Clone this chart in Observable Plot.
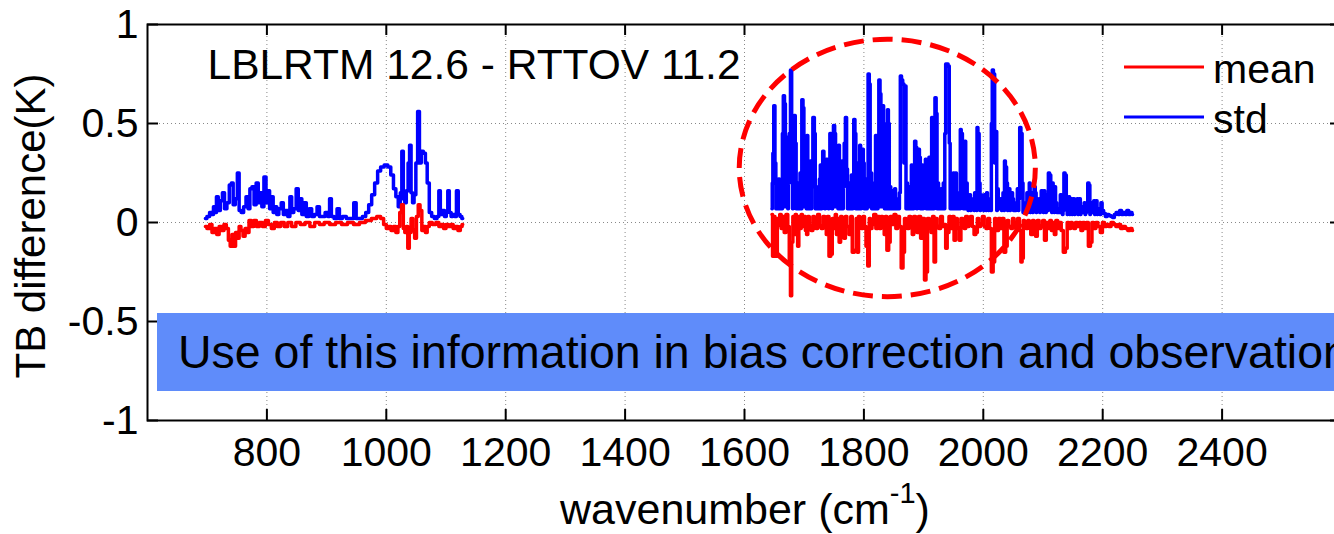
<!DOCTYPE html>
<html><head><meta charset="utf-8">
<script src="https://cdn.jsdelivr.net/npm/d3@7"></script>
<script src="https://cdn.jsdelivr.net/npm/@observablehq/plot@0.6"></script>
<style>
html,body{margin:0;padding:0;background:#fff;overflow:hidden;}
#wrap{position:relative;width:1334px;height:534px;overflow:hidden;font-family:"Liberation Sans",Arial,sans-serif;}
#wrap svg{display:block;}
#banner{position:absolute;left:157px;top:313px;width:1300px;height:78px;background:#5f8cfa;color:#000;font-size:46.5px;line-height:78px;padding-left:21px;white-space:nowrap;box-sizing:border-box;}
</style></head><body><div id="wrap"></div><script>
// ---- data ----
const xTicks = [800, 1000, 1200, 1400, 1600, 1800, 2000, 2200, 2400];
const yTicks = [-1, -0.5, 0, 0.5, 1];
const titleText = "LBLRTM 12.6 - RTTOV 11.2";
const seriesNames = ["mean", "std"];
const xLabel = "wavenumber (cm";
const xLabelSup = "-1";
const yLabel = "TB difference(K)";
const bannerText = "Use of this information in bias correction and observation error";
// highlight ellipse (data units): center wavenumber, center K, radius wavenumber, radius K
const ellipse = {cx: 1840, cy: 0.273, rx: 248, ry: 0.65};

const stdBand1 = [[697,0.02],[702,0.03],[706,0.05],[709,0.04],[712,0.08],[714,0.05],[717,0.13],[720,0.06],[724,0.11],[727,0.15],[731,0.07],[735,0.10],[739,0.19],[742,0.20],[745,0.09],[749,0.12],[752,0.25],[755,0.06],[759,0.05],[763,0.08],[767,0.13],[770,0.07],[773,0.17],[777,0.18],[780,0.09],[784,0.20],[787,0.10],[790,0.15],[793,0.08],[797,0.23],[800,0.10],[803,0.16],[806,0.07],[809,0.13],[812,0.05],[815,0.08],[818,0.04],[822,0.07],[826,0.10],[829,0.04],[833,0.06],[837,0.03],[840,0.13],[843,0.05],[847,0.07],[851,0.17],[854,0.06],[857,0.12],[860,0.04],[864,0.10],[868,0.03],[873,0.07],[877,0.03],[882,0.04],[886,0.08],[890,0.03],[895,0.03],[900,0.05],[904,0.03],[906,0.12],[910,0.03],[915,0.02],[920,0.07],[923,0.02],[930,0.03],[936,0.02],[943,0.02],[948,0.10],[951,0.02],[957,0.02],[963,0.03],[968,0.05],[973,0.09],[978,0.14],[983,0.20],[988,0.26],[993,0.28],[1000,0.29],[1005,0.28],[1010,0.24],[1014,0.17],[1018,0.13],[1022,0.08],[1025,0.15],[1027,0.36],[1030,0.12],[1032,0.10],[1035,0.16],[1038,0.30],[1040,0.39],[1043,0.15],[1045,0.10],[1048,0.14],[1051,0.30],[1054,0.56],[1057,0.30],[1060,0.36],[1064,0.35],[1067,0.30],[1070,0.20],[1074,0.05],[1078,0.03],[1083,0.02],[1087,0.03],[1089,0.16],[1092,0.04],[1096,0.06],[1099,0.03],[1102,0.05],[1104,0.16],[1107,0.05],[1110,0.03],[1113,0.04],[1116,0.03],[1119,0.16],[1122,0.04],[1125,0.03],[1128,0.02]];

const meanBand1 = [[697,-0.02],[702,-0.03],[706,-0.01],[710,-0.05],[714,-0.03],[718,-0.06],[722,-0.02],[726,-0.04],[730,-0.01],[734,-0.03],[737,-0.09],[740,-0.12],[743,-0.06],[746,-0.12],[749,-0.05],[752,-0.08],[755,-0.02],[758,-0.04],[762,-0.07],[765,-0.03],[768,-0.05],[772,0.01],[776,-0.02],[780,0.01],[785,-0.02],[790,0.0],[795,-0.02],[800,0.01],[805,-0.01],[810,-0.03],[815,0.0],[820,-0.02],[826,0.0],[832,-0.02],[838,0.0],[845,-0.02],[852,0.0],[860,-0.01],[868,0.0],[876,-0.02],[884,0.0],[892,-0.01],[900,0.0],[910,-0.01],[920,0.0],[930,-0.01],[940,0.0],[950,-0.01],[960,0.0],[970,0.01],[980,0.02],[988,0.03],[993,0.02],[998,-0.01],[1002,-0.03],[1006,-0.02],[1010,-0.04],[1014,-0.02],[1018,-0.05],[1021,-0.02],[1024,0.05],[1027,0.09],[1030,-0.03],[1032,-0.05],[1035,-0.02],[1037,-0.13],[1040,-0.05],[1043,0.02],[1046,-0.04],[1049,-0.08],[1052,0.03],[1055,0.09],[1058,0.06],[1061,-0.04],[1064,-0.02],[1067,-0.05],[1070,-0.02],[1074,0.0],[1080,-0.01],[1086,0.0],[1090,-0.02],[1094,-0.01],[1098,-0.03],[1102,-0.01],[1106,-0.02],[1110,-0.01],[1114,-0.03],[1118,-0.02],[1122,-0.04],[1126,-0.02],[1128,-0.01]];

const stdBand2 = [[1646,0.07],[1647,0.20],[1648,0.35],[1650,0.59],[1652,0.30],[1653,0.07],[1654,0.18],[1656,0.07],[1658,0.22],[1659,0.07],[1660,0.12],[1662,0.20],[1663,0.07],[1664,0.45],[1666,0.64],[1668,0.60],[1669,0.08],[1670,0.25],[1672,0.43],[1673,0.07],[1674,0.20],[1676,0.45],[1678,0.77],[1680,0.50],[1681,0.07],[1682,0.22],[1684,0.54],[1686,0.40],[1687,0.07],[1688,0.18],[1690,0.20],[1691,0.07],[1692,0.10],[1694,0.25],[1695,0.07],[1697,0.62],[1699,0.58],[1700,0.08],[1701,0.25],[1703,0.15],[1704,0.07],[1705,0.44],[1707,0.20],[1708,0.07],[1709,0.12],[1711,0.31],[1712,0.07],[1713,0.18],[1716,0.53],[1718,0.45],[1719,0.07],[1720,0.18],[1722,0.07],[1724,0.12],[1725,0.07],[1726,0.22],[1728,0.29],[1729,0.07],[1730,0.15],[1732,0.36],[1734,0.30],[1735,0.07],[1736,0.14],[1738,0.32],[1740,0.25],[1741,0.07],[1742,0.12],[1744,0.45],[1746,0.30],[1747,0.07],[1748,0.22],[1750,0.49],[1752,0.45],[1753,0.08],[1754,0.20],[1756,0.29],[1757,0.07],[1758,0.39],[1760,0.30],[1761,0.07],[1762,0.15],[1764,0.31],[1765,0.07],[1766,0.18],[1768,0.40],[1770,0.53],[1772,0.27],[1773,0.07],[1774,0.12],[1776,0.20],[1777,0.07],[1778,0.10],[1780,0.24],[1781,0.07],[1782,0.15],[1784,0.52],[1786,0.45],[1787,0.07],[1788,0.20],[1790,0.30],[1791,0.07],[1792,0.14],[1794,0.39],[1795,0.07],[1796,0.18],[1798,0.37],[1800,0.30],[1801,0.07],[1802,0.15],[1804,0.22],[1805,0.07],[1806,0.12],[1808,0.75],[1810,0.70],[1811,0.08],[1812,0.25],[1814,0.07],[1816,0.17],[1818,0.20],[1819,0.07],[1820,0.44],[1822,0.35],[1823,0.07],[1824,0.12],[1826,0.72],[1828,0.65],[1829,0.08],[1830,0.30],[1832,0.59],[1834,0.50],[1835,0.07],[1836,0.20],[1838,0.15],[1839,0.07],[1840,0.57],[1842,0.50],[1843,0.07],[1844,0.18],[1846,0.12],[1847,0.07],[1848,0.16],[1850,0.10],[1851,0.07],[1852,0.17],[1854,0.12],[1855,0.07],[1856,0.09],[1858,0.12],[1859,0.07],[1860,0.15],[1862,0.74],[1864,0.72],[1866,0.70],[1868,0.30],[1870,0.69],[1871,0.07],[1872,0.20],[1874,0.07],[1876,0.18],[1878,0.12],[1879,0.07],[1880,0.29],[1882,0.20],[1883,0.07],[1884,0.14],[1886,0.41],[1888,0.38],[1889,0.07],[1890,0.20],[1892,0.37],[1894,0.33],[1895,0.07],[1896,0.15],[1898,0.29],[1899,0.07],[1900,0.12],[1902,0.20],[1904,0.32],[1905,0.07],[1906,0.18],[1908,0.07],[1910,0.33],[1912,0.20],[1913,0.07],[1914,0.53],[1916,0.30],[1917,0.07],[1918,0.15],[1920,0.63],[1922,0.55],[1923,0.07],[1924,0.20],[1926,0.12],[1927,0.07],[1928,0.10],[1930,0.17],[1931,0.07],[1932,0.12],[1934,0.20],[1935,0.07],[1936,0.45],[1938,0.80],[1940,0.80],[1942,0.79],[1944,0.40],[1945,0.07],[1946,0.17],[1948,0.12],[1949,0.07],[1950,0.25],[1952,0.20],[1953,0.07],[1954,0.25],[1956,0.14],[1957,0.07],[1958,0.09],[1960,0.15],[1961,0.07],[1962,0.47],[1964,0.45],[1966,0.30],[1967,0.07],[1968,0.15],[1970,0.41],[1971,0.07],[1972,0.20],[1974,0.12],[1975,0.06],[1976,0.08],[1978,0.14],[1979,0.06],[1980,0.10],[1982,0.07],[1984,0.12],[1985,0.06],[1986,0.15],[1988,0.09],[1989,0.06],[1990,0.48],[1992,0.45],[1994,0.20],[1995,0.06],[1996,0.14],[1998,0.08],[2000,0.12],[2001,0.06],[2002,0.14],[2004,0.09],[2005,0.06],[2006,0.15],[2008,0.10],[2009,0.06],[2010,0.08],[2012,0.12],[2013,0.06],[2014,0.50],[2016,0.77],[2018,0.75],[2020,0.30],[2022,0.46],[2023,0.06],[2024,0.17],[2026,0.10],[2028,0.07],[2030,0.12],[2031,0.06],[2032,0.08],[2034,0.15],[2035,0.06],[2036,0.31],[2038,0.28],[2040,0.20],[2041,0.06],[2042,0.10],[2044,0.17],[2045,0.06],[2046,0.08],[2048,0.15],[2050,0.12],[2051,0.06],[2052,0.09],[2054,0.06],[2056,0.10],[2058,0.17],[2059,0.06],[2060,0.12],[2062,0.48],[2064,0.45],[2066,0.20],[2067,0.05],[2068,0.09],[2070,0.06],[2072,0.10],[2074,0.15],[2075,0.05],[2076,0.08],[2078,0.20],[2079,0.05],[2080,0.10],[2082,0.15],[2083,0.05],[2084,0.08],[2086,0.18],[2088,0.15],[2089,0.05],[2090,0.10],[2092,0.06],[2094,0.12],[2095,0.05],[2096,0.07],[2098,0.16],[2100,0.12],[2101,0.05],[2102,0.16],[2104,0.08],[2105,0.05],[2106,0.14],[2108,0.06],[2110,0.25],[2112,0.24],[2114,0.20],[2115,0.05],[2116,0.20],[2118,0.12],[2119,0.05],[2120,0.18],[2122,0.10],[2124,0.05],[2126,0.07],[2128,0.05],[2130,0.14],[2132,0.12],[2133,0.04],[2134,0.06],[2136,0.25],[2138,0.24],[2140,0.13],[2141,0.04],[2142,0.08],[2144,0.13],[2145,0.04],[2146,0.06],[2148,0.12],[2149,0.04],[2150,0.07],[2152,0.12],[2153,0.04],[2154,0.05],[2156,0.10],[2158,0.12],[2159,0.04],[2160,0.06],[2162,0.12],[2163,0.04],[2164,0.05],[2166,0.08],[2168,0.05],[2170,0.10],[2171,0.04],[2172,0.05],[2174,0.08],[2176,0.20],[2178,0.19],[2179,0.04],[2180,0.08],[2182,0.10],[2184,0.05],[2186,0.11],[2187,0.04],[2188,0.06],[2190,0.11],[2191,0.04],[2192,0.05],[2194,0.07],[2196,0.04],[2198,0.10],[2200,0.06],[2203,0.045],[2206,0.03],[2209,0.04],[2212,0.035],[2215,0.03],[2218,0.025],[2221,0.04],[2224,0.05],[2227,0.04],[2230,0.06],[2233,0.04],[2236,0.05],[2239,0.04],[2242,0.06],[2245,0.04],[2248,0.05],[2250,0.04]];

const meanBand2 = [[1646,0.04],[1648,-0.17],[1650,0.03],[1652,-0.10],[1654,-0.17],[1656,0.02],[1658,-0.015],[1660,0.04],[1663,-0.03],[1665,0.03],[1668,-0.05],[1671,0.04],[1674,-0.02],[1676,-0.20],[1678,-0.37],[1680,-0.10],[1682,0.03],[1684,-0.06],[1686,0.04],[1688,-0.05],[1690,-0.12],[1692,0.03],[1694,-0.03],[1696,0.04],[1698,-0.02],[1701,0.03],[1703,-0.04],[1705,-0.06],[1707,0.03],[1710,-0.02],[1713,-0.04],[1716,0.03],[1718,-0.02],[1721,-0.03],[1724,0.04],[1727,-0.02],[1730,-0.03],[1733,0.03],[1736,-0.02],[1738,-0.06],[1740,0.03],[1743,-0.17],[1746,-0.16],[1748,0.02],[1751,-0.03],[1753,0.04],[1755,-0.06],[1757,0.02],[1760,-0.10],[1762,0.03],[1765,-0.03],[1768,-0.08],[1770,0.03],[1773,-0.02],[1777,-0.06],[1779,0.03],[1782,-0.15],[1786,-0.14],[1788,0.02],[1790,-0.15],[1792,0.03],[1794,-0.02],[1797,-0.03],[1800,0.03],[1802,-0.02],[1805,-0.12],[1808,-0.22],[1810,0.02],[1812,-0.03],[1815,-0.01],[1818,0.04],[1822,-0.03],[1825,0.03],[1827,-0.03],[1830,0.03],[1833,-0.02],[1835,-0.06],[1837,0.03],[1840,-0.14],[1843,-0.10],[1845,0.03],[1849,-0.01],[1852,0.04],[1855,-0.03],[1858,0.03],[1861,-0.02],[1864,-0.23],[1867,-0.15],[1869,0.02],[1872,-0.02],[1874,-0.03],[1877,0.03],[1880,-0.02],[1882,-0.06],[1885,0.03],[1888,-0.02],[1890,-0.05],[1893,0.03],[1897,-0.08],[1900,0.02],[1903,-0.29],[1905,-0.25],[1908,0.02],[1911,-0.03],[1914,-0.05],[1916,0.03],[1919,-0.20],[1921,0.02],[1924,-0.02],[1927,-0.03],[1930,0.03],[1933,-0.02],[1936,-0.01],[1938,-0.13],[1941,-0.05],[1944,0.03],[1947,-0.03],[1950,0.03],[1952,-0.09],[1955,0.02],[1958,-0.03],[1961,-0.09],[1964,0.02],[1967,-0.02],[1969,-0.03],[1972,0.03],[1975,-0.02],[1977,-0.01],[1980,0.03],[1983,-0.02],[1986,-0.06],[1989,-0.05],[1991,0.02],[1994,-0.02],[1997,-0.01],[2000,0.03],[2003,-0.02],[2006,-0.03],[2009,0.02],[2012,-0.03],[2015,-0.25],[2018,-0.20],[2020,0.02],[2022,-0.03],[2024,-0.04],[2027,0.02],[2030,-0.03],[2033,0.02],[2036,-0.15],[2039,-0.12],[2041,0.01],[2044,-0.02],[2048,-0.03],[2050,0.02],[2053,0.0],[2056,-0.03],[2059,0.02],[2062,-0.04],[2064,-0.20],[2066,-0.18],[2068,0.01],[2070,-0.02],[2073,-0.03],[2076,0.01],[2078,-0.03],[2081,-0.06],[2084,0.01],[2086,-0.03],[2089,-0.07],[2092,0.01],[2095,-0.03],[2098,-0.02],[2101,0.01],[2104,-0.09],[2107,0.0],[2110,-0.03],[2113,0.01],[2115,-0.04],[2118,0.0],[2120,-0.06],[2123,0.01],[2126,-0.03],[2129,0.0],[2132,-0.04],[2136,-0.15],[2139,-0.13],[2142,0.0],[2145,-0.03],[2148,0.0],[2150,-0.02],[2153,-0.03],[2156,0.0],[2159,-0.02],[2162,0.0],[2165,-0.04],[2168,0.0],[2171,-0.03],[2174,0.0],[2178,-0.12],[2181,-0.10],[2183,0.0],[2187,-0.03],[2190,0.0],[2194,-0.02],[2198,-0.05],[2201,0.0],[2205,-0.02],[2208,-0.01],[2212,-0.02],[2216,0.0],[2220,-0.01],[2224,-0.02],[2228,-0.01],[2232,-0.03],[2236,-0.02],[2240,-0.03],[2244,-0.04],[2248,-0.03],[2250,-0.04]];

// ---- layout ----
const W = 1334, H = 534, ML = 147, MR = -7, MT = 24, MB = 114;
const xDomain = [600, 2600], yDomain = [-1, 1];
const tickLenPx = 11;
const xPerPx = (xDomain[1] - xDomain[0]) / (W - ML - MR);
const yPerPx = (yDomain[1] - yDomain[0]) / (H - MT - MB);
const FONT = "Liberation Sans, Arial, sans-serif";
const RED = "#ff0000", BLUE = "#0000ff";
const toObj = a => a.map(([w, v]) => ({w, v}));
const lineOpts = (color) => ({x: "w", y: "v", stroke: color, strokeWidth: 3.5, curve: "step"});

const plot = Plot.plot({
  width: W, height: H,
  marginLeft: ML, marginRight: MR, marginTop: MT, marginBottom: MB,
  style: {fontFamily: FONT, background: "white", color: "black", overflow: "visible"},
  x: {domain: xDomain},
  y: {domain: yDomain},
  marks: [
    Plot.gridX(xTicks, {stroke: "#888", strokeOpacity: 1, strokeWidth: 1, strokeDasharray: "1,3"}),
    Plot.gridY(yTicks, {stroke: "#888", strokeOpacity: 1, strokeWidth: 1, strokeDasharray: "1,3"}),
    Plot.axisX(xTicks, {tickSize: 0, tickPadding: 16, fontSize: 41, tickFormat: d => String(d), label: null, fill: "black"}),
    Plot.axisY(yTicks, {tickSize: 0, tickPadding: 9, fontSize: 41, tickFormat: d => String(d), label: null, fill: "black"}),
    Plot.line(toObj(stdBand1), lineOpts(BLUE)),
    Plot.line(toObj(stdBand2), lineOpts(BLUE)),
    Plot.line(toObj(meanBand1), lineOpts(RED)),
    Plot.line(toObj(meanBand2), lineOpts(RED)),
    Plot.ruleX(xTicks, {y1: yDomain[0], y2: yDomain[0] + tickLenPx * yPerPx, stroke: "black", strokeWidth: 2}),
    Plot.ruleX(xTicks, {y1: yDomain[1], y2: yDomain[1] - tickLenPx * yPerPx, stroke: "black", strokeWidth: 2}),
    Plot.ruleY(yTicks, {x1: xDomain[0], x2: xDomain[0] + tickLenPx * xPerPx, stroke: "black", strokeWidth: 2}),
    Plot.ruleY(yTicks, {x1: xDomain[1], x2: xDomain[1] - tickLenPx * xPerPx, stroke: "black", strokeWidth: 2}),
    Plot.frame({stroke: "black", strokeWidth: 2}),
    Plot.text([titleText], {frameAnchor: "top-left", dx: 60, dy: 24, lineAnchor: "top", textAnchor: "start", fontSize: 42.5, fill: "black"})
  ]
});

const svg = d3.select(plot);
const xs = plot.scale("x"), ys = plot.scale("y");
// highlight ellipse
const ecx = xs.apply(ellipse.cx), ecy = ys.apply(ellipse.cy);
svg.append("ellipse")
  .attr("cx", ecx).attr("cy", ecy)
  .attr("rx", xs.apply(ellipse.cx + ellipse.rx) - ecx)
  .attr("ry", ecy - ys.apply(ellipse.cy + ellipse.ry))
  .attr("fill", "none").attr("stroke", RED).attr("stroke-width", 5)
  .attr("stroke-dasharray", "20,9");
// legend
const leg = svg.append("g").attr("font-family", FONT).attr("font-size", 41).attr("text-anchor", "start");
[[RED, 67, 83], [BLUE, 117, 133]].forEach(([c, ly, ty], i) => {
  leg.append("line").attr("x1", 1124).attr("x2", 1204).attr("y1", ly).attr("y2", ly)
    .attr("stroke", c).attr("stroke-width", 3);
  leg.append("text").attr("x", 1213).attr("y", ty).attr("fill", "black").text(seriesNames[i]);
});
// axis labels
const xl = svg.append("text").attr("font-family", FONT).attr("font-size", 43)
  .attr("text-anchor", "start")
  .attr("x", 560).attr("y", 524).attr("fill", "black");
xl.append("tspan").text(xLabel);
xl.append("tspan").attr("font-size", 29).attr("dy", -21).text(xLabelSup);
xl.append("tspan").attr("dy", 21).text(")");
svg.append("text").attr("font-family", FONT).attr("font-size", 42)
  .attr("transform", "translate(45,226) rotate(-90)")
  .attr("text-anchor", "middle").attr("fill", "black").text(yLabel);

const wrap = document.getElementById("wrap");
wrap.appendChild(plot);
const banner = document.createElement("div");
banner.id = "banner";
banner.textContent = bannerText;
wrap.appendChild(banner);
</script></body></html>
